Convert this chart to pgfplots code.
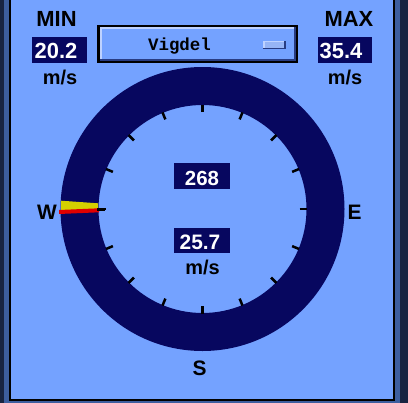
\documentclass[border=0pt]{standalone}
\usepackage{pgfplots}
\pgfplotsset{compat=1.18}
\usepackage{fontspec}
\setmainfont{Liberation Sans}
\newfontfamily\monofont{Liberation Mono}
\definecolor{panel}{RGB}{116,162,255}
\definecolor{navy}{RGB}{7,7,95}
\definecolor{framemid}{RGB}{61,94,158}
\definecolor{fardark}{RGB}{24,36,66}
\definecolor{btnhi}{RGB}{190,210,255}
\definecolor{btnlo}{RGB}{40,60,130}
\definecolor{btnind}{RGB}{150,180,245}
\definecolor{needleyellow}{RGB}{212,208,0}
\definecolor{needlered}{RGB}{224,0,0}
\begin{document}
\begin{tikzpicture}
\begin{axis}[at={(0,0)}, anchor=south west,
  width=408bp, height=403bp, scale only axis,
  xmin=0, xmax=408, ymin=0, ymax=403, y dir=reverse,
  hide axis, clip=false]
% frame
\fill[fardark] (axis cs:0,0) rectangle (axis cs:408,403);
\fill[framemid] (axis cs:4,0) rectangle (axis cs:400,403);
\fill[black] (axis cs:9,0) rectangle (axis cs:395,401);
\fill[panel] (axis cs:11,0) rectangle (axis cs:393,399);
% ring
\fill[navy, even odd rule] (axis cs:202.5,209) circle[radius=142] (axis cs:202.5,209) circle[radius=104];
% ticks
\pgfplotsinvokeforeach{0,22.5,45,67.5,90,112.5,135,157.5,180,202.5,225,247.5,270,292.5,315,337.5}{
  \draw[black, line width=2.5bp] (axis cs:{202.5+97*sin(#1)},{209-97*cos(#1)}) -- (axis cs:{202.5+104.5*sin(#1)},{209-104.5*cos(#1)});
}
% needle (direction 268 deg)
\addplot[fill=needleyellow, draw=none] coordinates {(61,200.7) (98,203.3) (98,211) (61,213)} -- cycle;
\addplot[fill=needlered, draw=none] coordinates {(59,210) (99,208.3) (99,212.3) (59,214)} -- cycle;
\draw[black, line width=2.5bp] (axis cs:97,209.5) -- (axis cs:105,209.5);
% compass letters
\node[anchor=base, font=\fontsize{21}{21}\selectfont\bfseries] at (axis cs:47,219) {W};
\node[anchor=base, font=\fontsize{21}{21}\selectfont\bfseries] at (axis cs:354.5,219) {E};
\node[anchor=base, font=\fontsize{21}{21}\selectfont\bfseries] at (axis cs:199.5,375) {S};
% MIN / MAX
\node[anchor=base, font=\fontsize{22}{22}\selectfont\bfseries] at (axis cs:56.5,27) {MIN};
\node[anchor=base, font=\fontsize{22}{22}\selectfont\bfseries] at (axis cs:349,27) {MAX};
\fill[navy] (axis cs:32,37) rectangle (axis cs:87,63);
\fill[navy] (axis cs:318,37) rectangle (axis cs:372,63);
\node[anchor=base west, inner sep=0, text=white, font=\fontsize{22}{22}\selectfont\bfseries] at (axis cs:34.5,58.3) {20.2};
\node[anchor=base west, inner sep=0, text=white, font=\fontsize{22}{22}\selectfont\bfseries] at (axis cs:319.5,58.3) {35.4};
\node[anchor=base, font=\fontsize{20}{20}\selectfont\bfseries] at (axis cs:60,84) {m/s};
\node[anchor=base, font=\fontsize{20}{20}\selectfont\bfseries] at (axis cs:345,84) {m/s};
% station selector button
\fill[black] (axis cs:97,25) rectangle (axis cs:298,63);
\fill[btnlo] (axis cs:99.5,27.5) rectangle (axis cs:296,61);
\fill[btnhi] (axis cs:99.5,27.5) rectangle (axis cs:294,59);
\fill[panel] (axis cs:101.5,29.5) rectangle (axis cs:294,59);
\fill[btnlo] (axis cs:263,41) rectangle (axis cs:285.5,49.5);
\fill[btnhi] (axis cs:263,41) rectangle (axis cs:284,48);
\fill[btnind] (axis cs:264.5,42.5) rectangle (axis cs:284,48);
\node[anchor=base, inner sep=0, font=\fontsize{17.5}{17.5}\selectfont\monofont\bfseries] at (axis cs:179.5,50) {Vigdel};
% centre readouts
\fill[navy] (axis cs:174,163) rectangle (axis cs:230,189);
\fill[navy] (axis cs:174,228) rectangle (axis cs:230,253);
\node[anchor=base, inner sep=0, text=white, font=\fontsize{20.5}{20.5}\selectfont\bfseries] at (axis cs:202,185) {268};
\node[anchor=base, inner sep=0, text=white, font=\fontsize{21}{21}\selectfont\bfseries] at (axis cs:200,249) {25.7};
\node[anchor=base, font=\fontsize{20}{20}\selectfont\bfseries] at (axis cs:202.5,274) {m/s};
\end{axis}
\end{tikzpicture}
\end{document}
